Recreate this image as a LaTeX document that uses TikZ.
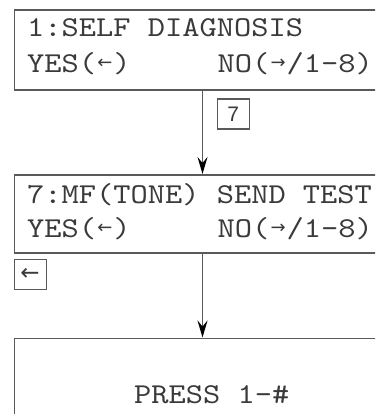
\documentclass[tikz,border=0pt]{standalone}
\usepackage{fontspec}
\usepackage{graphicx}
\newfontfamily\lcdfont[FakeStretch=1.14]{lmmono10-regular.otf}
\newfontfamily\keyfont{Liberation Sans}
\newfontfamily\arrowfont{DejaVu Sans}
\usetikzlibrary{positioning, arrows.meta}
\definecolor{boxgray}{HTML}{5A5A5A}
\definecolor{textgray}{HTML}{3A3A3A}
% small arrows inside one character cell
\newcommand{\lar}{\makebox[17.3pt]{\raisebox{4pt}{\arrowfont\fontsize{18}{18}\selectfont ←}}}
\newcommand{\rar}{\makebox[17.3pt]{\raisebox{4pt}{\arrowfont\fontsize{18}{18}\selectfont →}}}

\begin{document}
\begin{tikzpicture}[x=1pt,y=-1pt]
	\tikzset{
		screen/.style={draw=boxgray, line width=1.6pt, anchor=north west, inner sep=0pt},
		lcd/.style={font=\lcdfont\fontsize{28.8}{30}\selectfont, text=textgray, inner sep=0pt, anchor=base west},
		keybox/.style={draw=boxgray, line width=1.2pt, minimum width=32pt, minimum height=30pt, inner sep=0pt, anchor=north west, text=textgray},
		flow/.style={draw=boxgray, line width=1.5pt, -{Stealth[length=17pt, width=10pt, inset=6pt, black]}}
	}
	\useasboundingbox (0,0) rectangle (375,414);
	\clip (0,0) rectangle (375,414);
	% screens
	\node[screen, minimum width=400pt, minimum height=80pt] (scr1) at (13.5,9) {};
	\node[lcd] (title1) at (27,36.7) {1:SELF DIAGNOSIS};
	\node[lcd] (yes1) at (27,72.7) {YES(\lar)};
	\node[lcd] (no1) at (217.5,72.7) {NO(\rar/1-8)};
	\node[screen, minimum width=400pt, minimum height=78pt] (scr2) at (13.5,174) {};
	\node[lcd] (title7) at (27,203.5) {7:MF(TONE) SEND TEST};
	\node[lcd] (yes7) at (27,237.7) {YES(\lar)};
	\node[lcd] (no7) at (217.5,237.7) {NO(\rar/1-8)};
	\node[screen, minimum width=400pt, minimum height=120pt] (scr3) at (13.5,337.5) {};
	\node[lcd] (press) at (134,403) {PRESS 1-\#};
	% keys
	\node[keybox] (key7) at (216.5,98.5) {\keyfont\fontsize{21}{21}\selectfont 7};
	\node[keybox] (keyleft) at (13.5,259) {\arrowfont\fontsize{23}{23}\selectfont ←};
	% flow
	\coordinate (mid) at (202.5,0);
	\draw[flow] (scr1.south -| mid) -- (scr2.north -| mid);
	\draw[flow] (scr2.south -| mid) -- (scr3.north -| mid);
\end{tikzpicture}
\end{document}
